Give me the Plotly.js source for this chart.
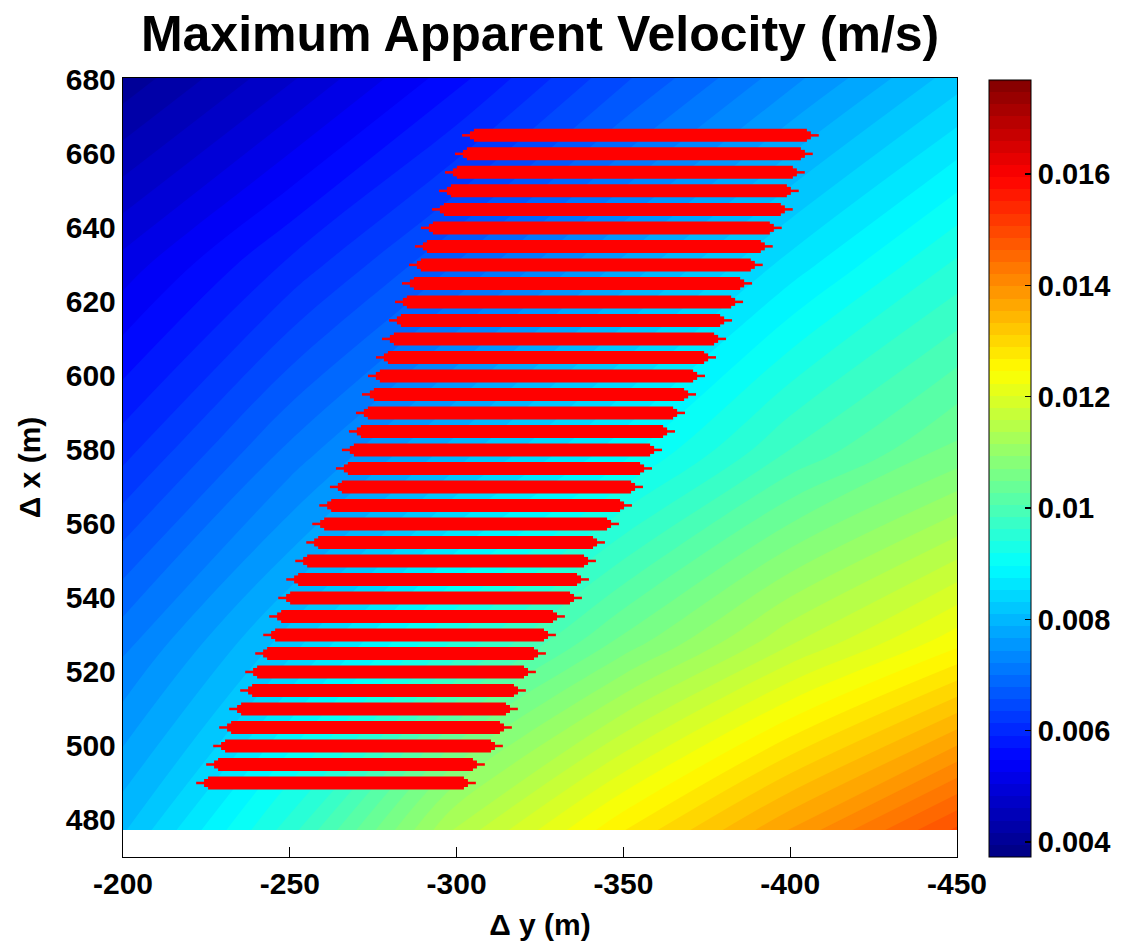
<!DOCTYPE html>
<html>
<head>
<meta charset="utf-8">
<script src="https://cdn.plot.ly/plotly-3.0.1.min.js"></script>
<style>html,body{margin:0;padding:0;background:#fff;}#chart{width:1137px;height:947px;}</style>
</head>
<body>
<div id="chart"></div>
<script>
// Grid of the colour field (Δy columns, Δx rows)
const dyGrid = [-200, -250, -300, -350, -400, -450];
const dxGrid = [477.3, 528, 579, 630, 680.6];
const velocity = [
  [0.00806, 0.00952, 0.01141, 0.01266, 0.01378, 0.01490],
  [0.00715, 0.00820, 0.00945, 0.01057, 0.01155, 0.01238],
  [0.00606, 0.00708, 0.00799, 0.00890, 0.00987, 0.01057],
  [0.00513, 0.00596, 0.00680, 0.00771, 0.00862, 0.00945],
  [0.00401, 0.00478, 0.00561, 0.00652, 0.00736, 0.00820]
];
const colorMin = 0.00373;
const colorMax = 0.01769;

// Red horizontal segments
const lineDx = [665,660,655,650,645,640,635,630,625,620,615,610,605,600,595,590,585,580,575,570,565,560,555,550,545,540,535,530,525,520,515,510,505,500,495,490];
const lineStart = [-305.2,-303.1,-300.1,-298.3,-296.2,-292.9,-291.1,-289.3,-287.2,-285.1,-283.3,-281.2,-279.4,-277.0,-275.2,-273.4,-271.3,-269.2,-267.4,-265.6,-262.4,-260.3,-258.5,-255.2,-252.5,-250.1,-247.4,-245.6,-243.2,-240.2,-238.7,-235.4,-232.4,-230.6,-228.5,-225.5];
const lineEnd = [-405.0,-403.2,-400.8,-399.0,-397.2,-393.9,-391.2,-388.2,-385.0,-382.3,-379.0,-377.2,-374.2,-370.9,-368.2,-364.9,-361.9,-358.0,-355.0,-352.3,-349.0,-345.1,-340.9,-338.2,-336.1,-334.0,-328.9,-326.2,-323.2,-320.2,-317.2,-314.8,-313.0,-310.3,-304.9,-302.2];

// Tick labels
const xTickVals = [-200, -250, -300, -350, -400, -450];
const xTickText = ['-200', '-250', '-300', '-350', '-400', '-450'];
const yTickVals = [480, 500, 520, 540, 560, 580, 600, 620, 640, 660, 680];
const cbTickVals = [0.004, 0.006, 0.008, 0.010, 0.012, 0.014, 0.016];
const cbTickText = ['0.004', '0.006', '0.008', '0.01', '0.012', '0.014', '0.016'];

const jet = [[0,'rgb(0,0,128)'],[0.125,'rgb(0,0,255)'],[0.375,'rgb(0,255,255)'],[0.625,'rgb(255,255,0)'],[0.875,'rgb(255,0,0)'],[1,'rgb(128,0,0)']];

const segX = [], segY = [], endX = [], endY = [];
lineDx.forEach((d, i) => {
  segX.push(lineStart[i], lineEnd[i], null); segY.push(d, d, null);
  endX.push(lineStart[i], lineEnd[i]); endY.push(d, d);
});

const FONT = 'Liberation Sans, Arial, sans-serif';
const RED = 'rgb(255,0,0)';

// colorbar geometry (paper units)
const cbLeft = 1.0384, cbLen = 0.9974, plotW = 834;
const cbShapes = cbTickVals.map(v => {
  const yp = (v - colorMin) / (colorMax - colorMin) * cbLen;
  return {type: 'line', xref: 'paper', yref: 'paper', x0: cbLeft, x1: cbLeft + 6 / plotW, y0: yp, y1: yp,
          line: {color: '#000', width: 1.5}};
});

const traces = [
  {
    type: 'contour',
    x: dyGrid, y: dxGrid, z: velocity,
    zmin: colorMin, zmax: colorMax, zauto: false,
    autocontour: false,
    contours: {coloring: 'fill', start: colorMin, end: colorMax, size: (colorMax - colorMin) / 64, showlines: false},
    line: {width: 0},
    colorscale: jet,
    hoverinfo: 'skip',
    colorbar: {
      x: cbLeft, xanchor: 'left', xpad: 0,
      y: cbLen, yanchor: 'top', ypad: 0,
      len: cbLen, lenmode: 'fraction',
      thickness: 42, thicknessmode: 'pixels',
      outlinewidth: 1, outlinecolor: '#000',
      ticks: 'inside', ticklen: 6, tickcolor: '#000', tickwidth: 1.5,
      tickmode: 'array', tickvals: cbTickVals, ticktext: cbTickText,
      tickfont: {family: FONT, size: 29, color: '#000', weight: 'bold'}
    }
  },
  {
    type: 'scatter', mode: 'lines',
    x: segX, y: segY,
    line: {color: RED, width: 13},
    hoverinfo: 'skip', showlegend: false, connectgaps: false
  },
  {
    type: 'scatter', mode: 'markers',
    x: endX, y: endY,
    marker: {symbol: 'square', size: 8, color: RED, line: {width: 0}},
    hoverinfo: 'skip', showlegend: false
  },
  {
    type: 'scatter', mode: 'markers',
    x: endX, y: endY,
    marker: {symbol: 'line-ew', size: 17, color: RED, line: {color: RED, width: 2.5}},
    hoverinfo: 'skip', showlegend: false
  }
];

const layout = {
  width: 1137, height: 947,
  margin: {l: 123, r: 180, t: 78, b: 90},
  paper_bgcolor: '#fff', plot_bgcolor: '#fff',
  showlegend: false,
  shapes: cbShapes,
  title: {text: 'Maximum Apparent Velocity (m/s)', x: 0.475, xanchor: 'center', y: 0.965, yanchor: 'middle',
          font: {family: FONT, size: 50, color: '#000', weight: 'bold'}},
  xaxis: {
    range: [-200, -450], autorange: false,
    tickmode: 'array', tickvals: xTickVals, ticktext: xTickText,
    ticks: 'inside', ticklen: 10, tickwidth: 1.2, tickcolor: '#000',
    showgrid: false, zeroline: false,
    showline: true, linecolor: '#000', linewidth: 1.2, mirror: 'ticks',
    layer: 'below traces',
    tickfont: {family: FONT, size: 30, color: '#000', weight: 'bold'},
    title: {text: 'Δ y (m)', standoff: 14, font: {family: FONT, size: 30, color: '#000', weight: 'bold'}}
  },
  yaxis: {
    range: [470, 680.5], autorange: false,
    tickmode: 'array', tickvals: yTickVals,
    ticks: 'inside', ticklen: 10, tickwidth: 1.2, tickcolor: '#000',
    showgrid: false, zeroline: false,
    showline: true, linecolor: '#000', linewidth: 1.2, mirror: 'ticks',
    layer: 'below traces',
    tickfont: {family: FONT, size: 30, color: '#000', weight: 'bold'},
    title: {text: 'Δ x (m)', standoff: 16, font: {family: FONT, size: 30, color: '#000', weight: 'bold'}}
  }
};

Plotly.newPlot('chart', traces, layout, {staticPlot: true, displayModeBar: false});
</script>
</body>
</html>
